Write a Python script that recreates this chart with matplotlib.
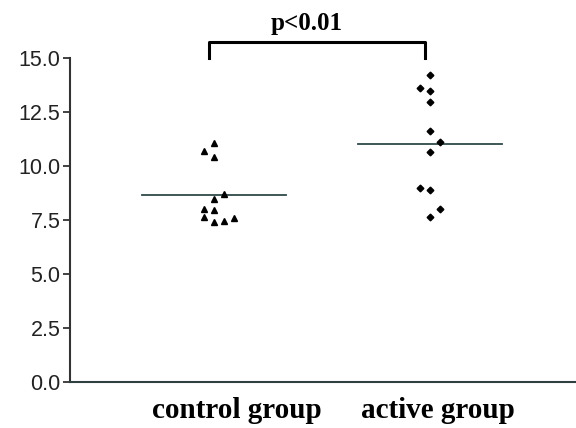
import numpy as np
import matplotlib.pyplot as plt

# values (y units)
control_vals = [11.08, 10.69, 10.43, 8.69, 8.47, 8.02, 7.96, 7.62, 7.42, 7.47, 7.58]
control_off = [0, -1, 0, 1, 0, -1, 0, -1, 0, 1, 2]
active_vals = [14.21, 13.60, 13.49, 12.96, 11.62, 11.10, 10.66, 9.00, 8.87, 8.02, 7.64]
active_off = [0, -1, 0, 0, 0, 1, 0, -1, 0, 1, 0]
group_labels = ["control group", "active group"]
y_ticks = [0.0, 2.5, 5.0, 7.5, 10.0, 12.5, 15.0]
p_text = "p<0.01"

fig = plt.figure(figsize=(5.76, 4.28), dpi=100)
ax = fig.add_axes([0.1215, 0.1075, 0.8785, 0.757])

step = 0.046
for pos, vals, off, mk, ms in [(1, control_vals, control_off, "^", 5.0),
                               (2, active_vals, active_off, "D", 3.4)]:
    xs = pos + np.array(off) * step
    ax.plot(xs, vals, linestyle="none", marker=mk, markersize=ms, color="black")
    m = np.mean(vals)
    ax.plot([pos - 0.335, pos + 0.335], [m, m], color="#2f4a4a", lw=1.3, zorder=1)

ax.set_xlim(0.333, 2.676)
ax.set_ylim(0, 15)
ax.set_yticks(y_ticks)
ax.set_yticklabels(["%.1f" % t for t in y_ticks], fontsize=15.5,
                   family="Liberation Sans", color="#222222")
ax.tick_params(axis="y", length=5, width=1.3, color="#333333", pad=2)

ax.set_xticks([1.107, 2.037])
ax.set_xticklabels(group_labels, family="Liberation Serif", fontweight="bold", fontsize=21)
ax.tick_params(axis="x", length=0, pad=11)

for s in ["top", "right"]:
    ax.spines[s].set_visible(False)
ax.spines["left"].set_linewidth(1.5)
ax.spines["left"].set_color("#333333")
ax.spines["bottom"].set_linewidth(1.5)
ax.spines["bottom"].set_color("#2f4040")

# significance bracket
yb = 15.74
bl, br = 1 - 0.023, 2 - 0.023
ax.plot([bl, bl, br, br], [15.0, yb, yb, 15.0], color="black", lw=2.2, clip_on=False)
ax.text(1.43, 16.05, p_text, ha="center", va="bottom", family="Liberation Serif",
        fontweight="bold", fontsize=18)

fig.savefig("out.png", dpi=100)
